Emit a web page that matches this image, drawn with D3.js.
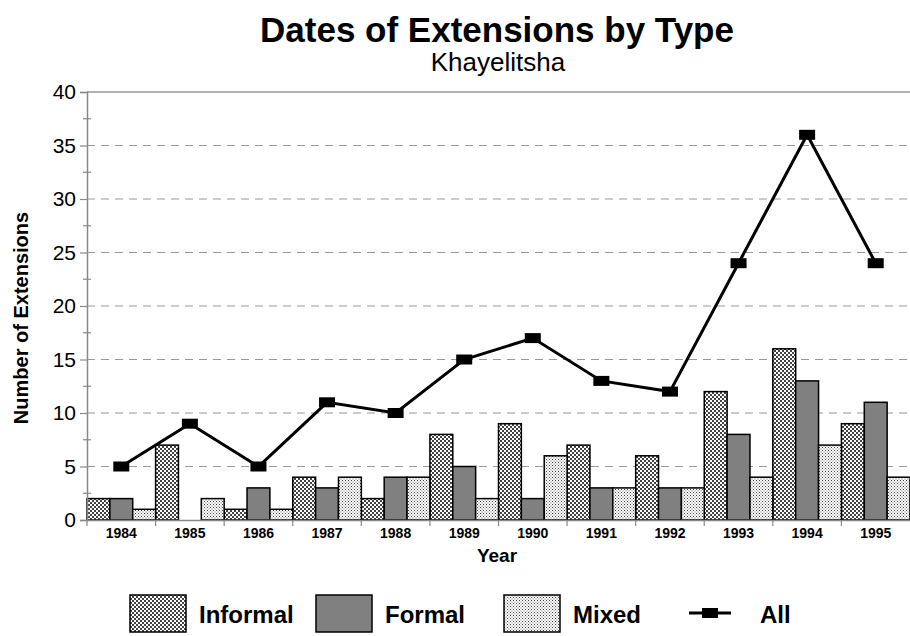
<!DOCTYPE html>
<html><head><meta charset="utf-8">
<script src="https://cdn.jsdelivr.net/npm/d3@7"></script>
<style>body{margin:0;background:#fff}svg{display:block;font-family:Arial,"Liberation Sans",sans-serif}</style>
</head><body><svg id="c" width="910" height="636"></svg>
<script>
const years = ["1984","1985","1986","1987","1988","1989","1990","1991","1992","1993","1994","1995"];
const informal = [2,7,1,4,2,8,9,7,6,12,16,9];
const formal = [2,0,3,3,4,5,2,3,3,8,13,11];
const mixed = [1,2,1,4,4,2,6,3,3,4,7,4];
const all = [5,9,5,11,10,15,17,13,12,24,36,24];
const yTicks = [0,5,10,15,20,25,30,35,40];
const seriesNames = ["Informal","Formal","Mixed"];

const svg = d3.select("#c");
const defs = svg.append("defs");
const p1 = defs.append("pattern").attr("id","pInf").attr("patternUnits","userSpaceOnUse").attr("width",4).attr("height",4);
p1.append("rect").attr("width",4).attr("height",4).attr("fill","#fff");
p1.append("rect").attr("x",0).attr("y",0).attr("width",2).attr("height",2).attr("fill","#444");
p1.append("rect").attr("x",2).attr("y",2).attr("width",2).attr("height",2).attr("fill","#444");
const p3 = defs.append("pattern").attr("id","pMix").attr("patternUnits","userSpaceOnUse").attr("width",3).attr("height",3);
p3.append("rect").attr("width",3).attr("height",3).attr("fill","#fff");
p3.append("rect").attr("x",0).attr("y",0).attr("width",1).attr("height",1).attr("fill","#444");
p3.append("rect").attr("x",1.5).attr("y",1.5).attr("width",1).attr("height",1).attr("fill","#666");
const fills = ["url(#pInf)","#808080","url(#pMix)"];

const x0 = 87, x1 = 910, yB = 520, yT = 92;
const x = d3.scaleBand().domain(years).range([x0,x1]).padding(0);
const xs = d3.scaleBand().domain(seriesNames).range([0,x.bandwidth()]).padding(0);
const y = d3.scaleLinear().domain([0,40]).range([yB,yT]);

svg.append("g").selectAll("line").data(yTicks.filter(t=>t>0 && t<40)).join("line")
  .attr("x1",x0).attr("x2",x1).attr("y1",d=>y(d)).attr("y2",d=>y(d))
  .attr("stroke","#999").attr("stroke-width",1.2).attr("stroke-dasharray","8,6");
svg.append("line").attr("x1",x0).attr("x2",x1).attr("y1",y(40)).attr("y2",y(40)).attr("stroke","#999").attr("stroke-width",1.3);

const seriesData = [informal, formal, mixed];
seriesData.forEach((arr,si)=>{
  svg.append("g").selectAll("rect").data(arr).join("rect")
    .attr("x",(d,i)=>x(years[i])+xs(seriesNames[si]))
    .attr("y",d=>y(d))
    .attr("width",xs.bandwidth())
    .attr("height",d=>yB-y(d))
    .attr("fill",fills[si]).attr("stroke","#000").attr("stroke-width",1.5);
});

const yAxis = d3.axisLeft(y).tickValues(yTicks).tickSize(7).tickPadding(4);
const gy = svg.append("g").attr("transform",`translate(${x0},0)`).call(yAxis);
gy.select(".domain").attr("stroke","#888").attr("stroke-width",1.5);
gy.selectAll(".tick line").attr("stroke","#888").attr("stroke-width",1.2);
gy.selectAll(".tick text").attr("font-size",21).attr("fill","#000").attr("font-family","Arial, 'Liberation Sans', sans-serif");
const minor = d3.range(2.5,40,5);
svg.append("g").selectAll("line").data(minor).join("line")
  .attr("x1",x0-4).attr("x2",x0+4).attr("y1",d=>y(d)).attr("y2",d=>y(d)).attr("stroke","#888").attr("stroke-width",1.2);

const xAxis = d3.axisBottom(x).tickSize(0).tickPadding(8);
const gx = svg.append("g").attr("transform",`translate(0,${yB})`).call(xAxis);
gx.select(".domain").attr("stroke","#888").attr("stroke-width",1.5);
gx.selectAll(".tick text").attr("font-size",14).attr("font-weight","bold").attr("fill","#000").attr("font-family","Arial, 'Liberation Sans', sans-serif");
svg.append("g").selectAll("line").data(years).join("line")
  .attr("x1",d=>x(d)).attr("x2",d=>x(d)).attr("y1",yB).attr("y2",yB+6).attr("stroke","#888").attr("stroke-width",1.2);

const cx = i => x(years[i]) + x.bandwidth()/2;
svg.append("path").datum(all)
  .attr("d", d3.line().x((d,i)=>cx(i)).y(d=>y(d)))
  .attr("fill","none").attr("stroke","#000").attr("stroke-width",3);
svg.append("g").selectAll("rect").data(all).join("rect")
  .attr("x",(d,i)=>cx(i)-8).attr("y",d=>y(d)-5).attr("width",16).attr("height",10).attr("fill","#000");

svg.append("text").attr("x",497).attr("y",42).attr("text-anchor","middle").attr("font-size",35).attr("font-weight","bold").text("Dates of Extensions by Type");
svg.append("text").attr("x",498).attr("y",71).attr("text-anchor","middle").attr("font-size",26).text("Khayelitsha");
svg.append("text").attr("x",497).attr("y",562).attr("text-anchor","middle").attr("font-size",19).attr("font-weight","bold").text("Year");
svg.append("text").attr("transform","translate(28,318) rotate(-90)").attr("text-anchor","middle").attr("font-size",20).attr("font-weight","bold").text("Number of Extensions");

const legX = [130, 316, 504];
const legY = 595;
seriesNames.forEach((n,i)=>{
  svg.append("rect").attr("x",legX[i]).attr("y",legY).attr("width",56).attr("height",37).attr("fill",fills[i]).attr("stroke","#000").attr("stroke-width",1.5);
  svg.append("text").attr("x",legX[i]+69).attr("y",legY+28).attr("font-size",24).attr("font-weight","bold").text(n);
});
svg.append("line").attr("x1",689).attr("x2",731).attr("y1",legY+18).attr("y2",legY+18).attr("stroke","#000").attr("stroke-width",3);
svg.append("rect").attr("x",702).attr("y",legY+13).attr("width",16).attr("height",10).attr("fill","#000");
svg.append("text").attr("x",760).attr("y",legY+28).attr("font-size",24).attr("font-weight","bold").text("All");
</script></body></html>
